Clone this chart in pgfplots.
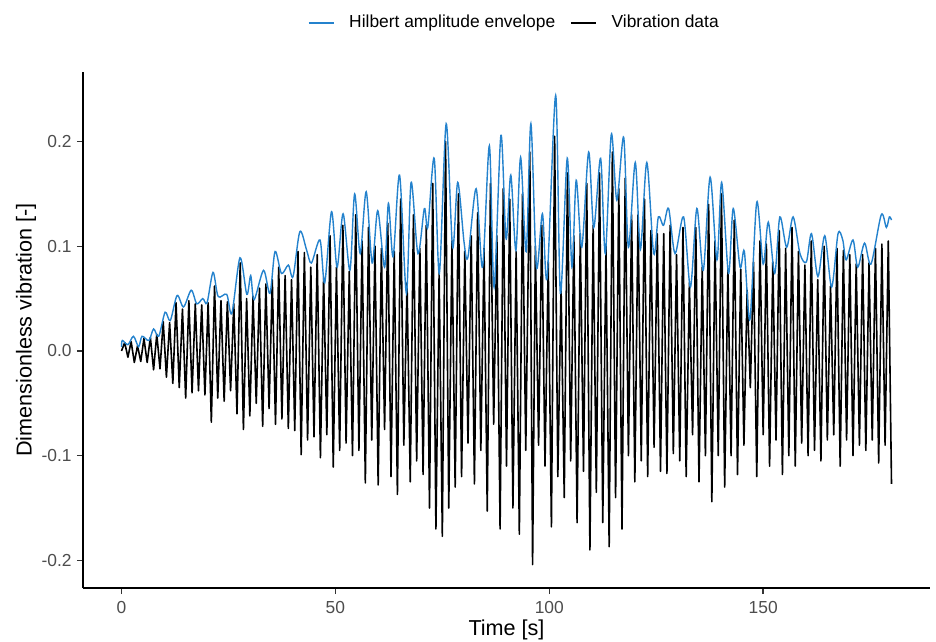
\documentclass[border=0pt]{standalone}
\usepackage{pgfplots}
\pgfplotsset{compat=1.18}
\usepackage{fontspec}
\setmainfont{Liberation Sans}
\definecolor{envblue}{RGB}{36,130,205}
\definecolor{ticktext}{RGB}{77,77,77}
\definecolor{axisgray}{RGB}{51,51,51}

\begin{document}
\begin{tikzpicture}
\begin{axis}[
    name=ax,
    scale only axis,
    width=423.5pt, height=258pt,
    xmin=-9, xmax=189,
    ymin=-0.2264, ymax=0.2664,
    axis lines*=left,
    axis line style={black, line width=0.7pt, -},
    xtick={0,50,100,150},
    xticklabels={0,50,100,150},
    ytick={-0.2,-0.1,0,0.1,0.2},
    yticklabels={-0.2,-0.1,0.0,0.1,0.2},
    tick align=outside,
    major tick length=3pt,
    tick style={axisgray, line width=0.7pt},
    ticklabel style={font=\fontsize{8.7}{10}\selectfont, text=ticktext, inner sep=0pt},
    xticklabel style={anchor=north, yshift=-3.5pt},
    yticklabel style={anchor=east, xshift=-2.5pt},
    xlabel={Time [s]},
    ylabel={Dimensionless vibration [-]},
    label style={font=\fontsize{10.8}{12}\selectfont, inner sep=0pt},
    xlabel style={at={(axis description cs:0.5,-0.0814)}, anchor=center},
    ylabel style={at={(axis description cs:-0.0673,0.5)}, anchor=center},
    legend columns=2,
    legend style={draw=none, fill=none, at={(axis description cs:0.508,1.095)},
        anchor=center, inner sep=0pt, column sep=7.5pt,
        font=\fontsize{8.7}{10}\selectfont, nodes={inner sep=0pt}},
    legend image code/.code={\draw[#1] (0pt,0pt) -- (12.5pt,0pt);},
]

% vibration signal (extremes)
\addplot[black, line width=0.8pt, line join=round, forget plot] coordinates {
(0,0.000)
(0.75,0.008)(1.5,-0.006)(2.25,0.009)(3.0,-0.011)(3.75,0.005)(4.5,-0.010)(5.25,0.012)(6.0,-0.011)(6.75,0.013)(7.5,-0.018)
(8.25,0.016)(9.0,-0.017)(9.75,0.028)(10.5,-0.025)(11.25,0.027)(12.0,-0.031)(12.75,0.046)(13.5,-0.035)(14.25,0.040)(15.0,-0.045)
(15.75,0.048)(16.5,-0.040)(17.25,0.045)(18.0,-0.038)(18.75,0.044)(19.5,-0.042)(20.25,0.046)(21.0,-0.068)(21.75,0.062)(22.5,-0.045)
(23.25,0.048)(24.0,-0.048)(24.75,0.047)(25.5,-0.038)(26.25,0.045)(27.0,-0.060)(27.75,0.084)(28.5,-0.075)(29.25,0.050)(30.0,-0.062)
(30.75,0.052)(31.5,-0.050)(32.25,0.060)(33.0,-0.072)(33.75,0.064)(34.5,-0.055)(35.25,0.068)(36.0,-0.070)(36.75,0.080)(37.5,-0.065)
(38.25,0.072)(39.0,-0.074)(39.75,0.068)(40.5,-0.076)(41.25,0.095)(42.0,-0.099)(42.75,0.094)(43.5,-0.085)(44.25,0.080)(45.0,-0.082)
(45.75,0.092)(46.5,-0.102)(47.25,0.070)(48.0,-0.080)(48.75,0.110)(49.5,-0.111)(50.25,0.080)(51.0,-0.095)(51.75,0.120)(52.5,-0.088)
(53.25,0.076)(54.0,-0.100)(54.75,0.130)(55.5,-0.095)(56.25,0.105)(57.0,-0.126)(57.75,0.118)(58.5,-0.085)(59.25,0.100)(60.0,-0.128)
(60.75,0.098)(61.5,-0.075)(62.25,0.122)(63.0,-0.120)(63.75,0.095)(64.5,-0.137)(65.25,0.145)(66.0,-0.090)(66.75,0.065)(67.5,-0.125)
(68.25,0.130)(69.0,-0.105)(69.75,0.098)(70.5,-0.118)(71.25,0.120)(72.0,-0.150)(72.75,0.160)(73.5,-0.170)(74.25,0.075)(75.0,-0.177)
(75.75,0.200)(76.5,-0.150)(77.25,0.105)(78.0,-0.130)(78.75,0.150)(79.5,-0.120)(80.25,0.095)(81.0,-0.088)(81.75,0.110)(82.5,-0.127)
(83.25,0.132)(84.0,-0.095)(84.75,0.098)(85.5,-0.153)(86.25,0.160)(87.0,-0.070)(87.75,0.110)(88.5,-0.170)(89.25,0.155)(90.0,-0.110)
(90.75,0.145)(91.5,-0.150)(92.25,0.095)(93.0,-0.175)(93.75,0.150)(94.5,-0.095)(95.45,0.190)(96.1,-0.204)(96.75,0.100)(97.5,-0.090)
(98.25,0.120)(99.0,-0.110)(99.75,0.085)(100.5,-0.168)(101.25,0.205)(102.0,-0.120)(102.75,0.062)(103.5,-0.140)(104.25,0.170)(105.0,-0.105)
(105.75,0.110)(106.5,-0.164)(107.25,0.112)(108.0,-0.115)(108.75,0.160)(109.5,-0.190)(110.25,0.120)(111.0,-0.135)(111.75,0.170)(112.5,-0.164)
(113.25,0.100)(114.0,-0.187)(114.75,0.190)(115.5,-0.140)(116.25,0.155)(117.0,-0.170)(117.75,0.165)(118.5,-0.100)(119.25,0.130)(120.0,-0.125)
(120.75,0.130)(121.5,-0.105)(122.25,0.145)(123.0,-0.120)(123.75,0.115)(124.5,-0.092)(125.25,0.112)(126.0,-0.115)(126.75,0.112)(127.5,-0.117)
(128.25,0.120)(129.0,-0.098)(129.75,0.092)(130.5,-0.105)(131.25,0.118)(132.0,-0.120)(132.75,0.065)(133.5,-0.080)(134.25,0.118)(135.0,-0.125)
(135.75,0.080)(136.5,-0.100)(137.25,0.140)(138.0,-0.144)(138.75,0.105)(139.5,-0.100)(140.25,0.150)(141.0,-0.130)(141.75,0.078)(142.5,-0.100)
(143.25,0.125)(144.0,-0.118)(144.75,0.078)(145.5,-0.090)(146.25,0.058)(147.0,-0.035)(147.75,0.085)(148.5,-0.120)(149.25,0.105)(150.0,-0.080)
(150.75,0.102)(151.5,-0.110)(152.25,0.085)(153.0,-0.085)(153.75,0.115)(154.5,-0.118)(155.25,0.098)(156.0,-0.100)(156.75,0.118)(157.5,-0.110)
(158.25,0.095)(159.0,-0.088)(159.75,0.082)(160.5,-0.100)(161.25,0.105)(162.0,-0.095)(162.75,0.068)(163.5,-0.105)(164.25,0.100)(165.0,-0.085)
(165.75,0.062)(166.5,-0.080)(167.25,0.098)(168.0,-0.110)(168.75,0.096)(169.5,-0.085)(170.25,0.092)(171.0,-0.100)(171.75,0.083)(172.5,-0.090)
(173.25,0.092)(174.0,-0.095)(174.75,0.084)(175.5,-0.085)(176.25,0.098)(177.0,-0.107)(177.75,0.102)(178.5,-0.090)(179.25,0.105)(180.0,-0.127)
};

% Hilbert amplitude envelope
\addplot[envblue, line width=0.7pt, smooth, forget plot] coordinates {
(0,0.004)(0.2,0.010)(1.5,0.006)(2.8,0.014)(4.0,0.004)(4.8,0.014)(6.4,0.010)(7.5,0.021)(8.7,0.014)(10.2,0.037)
(11.4,0.029)(13.0,0.053)(14.5,0.042)(16.3,0.058)(17.6,0.045)(19.0,0.050)(20.0,0.046)(21.4,0.075)(22.6,0.052)(24.6,0.054)
(25.8,0.036)(27.7,0.089)(29.3,0.054)(30.2,0.072)(31.0,0.049)(33.2,0.077)(34.7,0.055)(35.9,0.095)(37.4,0.074)(39.0,0.082)
(40.1,0.071)(41.7,0.114)(43.3,0.096)(44.4,0.084)(46.4,0.106)(47.5,0.065)(49.1,0.133)(50.4,0.080)(51.8,0.131)(53.4,0.077)
(54.5,0.150)(55.8,0.093)(57.2,0.152)(58.6,0.084)(59.9,0.134)(61.5,0.080)(62.4,0.141)(63.5,0.090)(65.0,0.168)(66.6,0.055)
(67.7,0.161)(69.3,0.093)(70.8,0.136)(71.6,0.118)(73.1,0.184)(74.3,0.074)(75.9,0.217)(77.4,0.099)(78.6,0.161)(80.1,0.103)
(81.0,0.090)(82.9,0.155)(84.4,0.080)(86.0,0.196)(87.1,0.061)(88.7,0.206)(89.9,0.107)(91.0,0.168)(92.2,0.096)(93.3,0.185)
(94.6,0.095)(95.7,0.217)(97.0,0.080)(98.4,0.131)(99.5,0.070)(101.5,0.244)(102.6,0.055)(104.2,0.184)(105.3,0.080)(106.3,0.163)
(107.6,0.099)(109.2,0.190)(110.4,0.118)(112.0,0.184)(113.1,0.093)(114.5,0.207)(115.8,0.144)(117.4,0.204)(118.5,0.099)(120.1,0.180)
(121.3,0.097)(122.8,0.180)(124.4,0.093)(125.5,0.128)(126.7,0.120)(127.9,0.136)(129.4,0.093)(131.4,0.128)(133.0,0.061)(134.5,0.136)
(136.0,0.077)(137.6,0.166)(139.2,0.087)(140.3,0.161)(141.9,0.074)(143.0,0.136)(144.6,0.080)(145.6,0.095)(146.9,0.030)(148.5,0.142)
(150.0,0.083)(151.2,0.123)(152.7,0.074)(153.9,0.128)(155.5,0.099)(157.0,0.128)(158.6,0.093)(160.1,0.085)(161.3,0.112)(162.8,0.071)
(164.4,0.110)(166.0,0.061)(167.5,0.112)(168.6,0.106)(169.4,0.087)(171.0,0.106)(172.1,0.080)(173.7,0.103)(175.2,0.083)(177.6,0.130)
(178.8,0.118)(179.5,0.128)(180.0,0.125)
};

\addlegendimage{envblue, line width=0.7pt}
\addlegendentry{Hilbert amplitude envelope}
\addlegendimage{black, line width=0.7pt}
\addlegendentry{Vibration data}
\end{axis}
\pgfresetboundingbox
\path[use as bounding box] ([shift={(-41.5pt,-26.5pt)}]ax.south west) rectangle ([shift={(3pt,36pt)}]ax.north east);
\end{tikzpicture}
\end{document}
